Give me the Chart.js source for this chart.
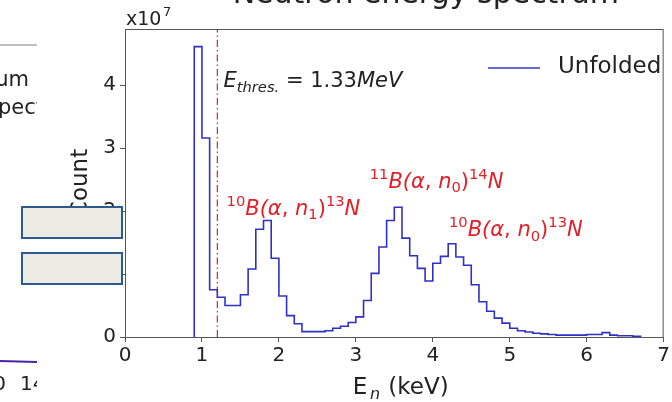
<!DOCTYPE html>
<html>
<head>
<meta charset="utf-8">
<script src="https://cdn.jsdelivr.net/npm/chart.js@4.4.1/dist/chart.umd.min.js"></script>
<style>
  html, body { margin: 0; padding: 0; background: #fff; }
  #wrap { width: 672px; height: 402px; position: relative; }
</style>
</head>
<body>
<div id="wrap"><canvas id="myChart" width="672" height="402"></canvas></div>
<script>
// histogram bins (keV), 0.1 keV wide, first bin starts at 0.9
const binStart = 0.9;
const binWidth = 0.1;
// counts per bin, in units of 1e7
const counts = [
  4.61, 3.16, 0.75, 0.63, 0.50, 0.50, 0.67, 1.08, 1.71, 1.85,
  1.25, 0.65, 0.34, 0.21, 0.085, 0.085, 0.085, 0.10, 0.14, 0.17,
  0.23, 0.32, 0.58, 1.01, 1.43, 1.85, 2.06, 1.57, 1.29, 1.09,
  0.89, 1.17, 1.28, 1.48, 1.27, 1.14, 0.83, 0.56, 0.41, 0.30,
  0.22, 0.14, 0.10, 0.08, 0.06, 0.05, 0.04, 0.03, 0.03, 0.03,
  0.03, 0.04, 0.04, 0.07, 0.03, 0.02, 0.02, 0.01
];
const threshold = 1.2;   // dash-dot line position (keV)
const xTicks = [0, 1, 2, 3, 4, 5, 6, 7];
const yMax = 4.89;

// reaction labels: [x keV, baseline y (1e7), parts]
const reactionLabels = [
  [1.32, 1.94, [["10", "sup"], ["B(", "i"], ["α", "i"], [", ", "r"], ["n", "i"], ["1", "sub"], [")", "r"], ["13", "sup"], ["N", "i"]]],
  [3.18, 2.37, [["11", "sup"], ["B(", "i"], ["α", "i"], [", ", "r"], ["n", "i"], ["0", "sub"], [")", "r"], ["14", "sup"], ["N", "i"]]],
  [4.21, 1.60, [["10", "sup"], ["B(", "i"], ["α", "i"], [", ", "r"], ["n", "i"], ["0", "sub"], [")", "r"], ["13", "sup"], ["N", "i"]]]
];
const thresLabel = [1.28, 3.97, [["E", "i"], ["thres.", "isub"], [" = 1.33", "r"], ["MeV", "i"]]];

// build step outline points (left edge of each bin carries its count)
const histPoints = [{ x: binStart, y: 0 }];
counts.forEach((c, i) => histPoints.push({ x: +(binStart + i * binWidth).toFixed(2), y: c }));
histPoints.push({ x: +(binStart + counts.length * binWidth).toFixed(2), y: 0 });

const FONT = "'DejaVu Sans'";

function drawRich(ctx, x, y, parts, size, color) {
  ctx.save();
  ctx.fillStyle = color;
  ctx.textAlign = "left";
  ctx.textBaseline = "alphabetic";
  let cx = x;
  parts.forEach(([t, st]) => {
    let fs = size, dy = 0, style = "";
    if (st === "i") style = "italic ";
    if (st === "sup") { fs = size * 0.7; dy = -size * 0.42; }
    if (st === "sub") { fs = size * 0.7; dy = size * 0.22; }
    if (st === "isub") { fs = size * 0.7; dy = size * 0.22; style = "italic "; }
    ctx.font = style + fs + "px " + FONT;
    ctx.fillText(t, cx, y + dy);
    cx += ctx.measureText(t).width;
  });
  ctx.restore();
}

const extras = {
  id: "extras",
  afterDraw(chart) {
    const { ctx, chartArea: a, scales: { x, y } } = chart;
    ctx.save();
    // frame
    ctx.strokeStyle = "#555";
    ctx.lineWidth = 1;
    ctx.strokeRect(a.left + 0.5, a.top + 0.5, a.right - a.left - 1, a.bottom - a.top);

    // top title (cut off by the crop)
    ctx.fillStyle = "#222";
    ctx.font = "30px " + FONT;
    ctx.textAlign = "left";
    ctx.textBaseline = "alphabetic";
    const pre = "Neutron energy ";
    ctx.fillText(pre + "spectrum", 477 - ctx.measureText(pre).width, 3);

    // x10^7
    ctx.font = "19px " + FONT;
    ctx.fillText("x10", 126, 25);
    ctx.font = "13px " + FONT;
    ctx.fillText("7", 163, 16);

    // axis titles
    ctx.font = "23px " + FONT;
    ctx.textAlign = "center";
    ctx.fillText("E", 360, 394);
    ctx.font = "italic 16px " + FONT;
    ctx.fillText("n", 375, 399);
    ctx.font = "23px " + FONT;
    ctx.textAlign = "left";
    ctx.fillText(" (keV)", 381, 394);
    ctx.save();
    ctx.translate(87, 183);
    ctx.rotate(-Math.PI / 2);
    ctx.textAlign = "center";
    ctx.fillText("Count", 0, 0);
    ctx.restore();

    // annotations
    reactionLabels.forEach(([vx, vy, parts]) =>
      drawRich(ctx, x.getPixelForValue(vx), y.getPixelForValue(vy), parts, 21, "#e3202a"));
    drawRich(ctx, x.getPixelForValue(thresLabel[0]), y.getPixelForValue(thresLabel[1]), thresLabel[2], 21, "#222");

    // legend
    ctx.strokeStyle = "#3434c8";
    ctx.lineWidth = 1.6;
    ctx.beginPath();
    ctx.moveTo(488, 68);
    ctx.lineTo(540, 68);
    ctx.stroke();
    ctx.fillStyle = "#222";
    ctx.font = "23px " + FONT;
    ctx.textAlign = "left";
    ctx.textBaseline = "middle";
    ctx.fillText("Unfolded", 558, 67);

    // fragment of neighbouring panel
    ctx.save();
    ctx.beginPath();
    ctx.rect(0, 0, 37, 402);
    ctx.clip();
    ctx.strokeStyle = "#aaa";
    ctx.lineWidth = 1.5;
    ctx.beginPath();
    ctx.moveTo(0, 45); ctx.lineTo(37, 45);
    ctx.stroke();
    ctx.fillStyle = "#222";
    ctx.font = "21px " + FONT;
    ctx.textBaseline = "alphabetic";
    ctx.textAlign = "right";
    ctx.fillText("spectrum", 29, 86);
    ctx.textAlign = "left";
    ctx.fillText("spectrum", -13, 114);
    ctx.strokeStyle = "#4a22a8";
    ctx.lineWidth = 2.2;
    ctx.beginPath();
    ctx.moveTo(0, 361); ctx.lineTo(37, 362);
    ctx.stroke();
    ctx.font = "20px " + FONT;
    ctx.textAlign = "right";
    ctx.fillText("120", 6, 390);
    ctx.textAlign = "left";
    ctx.fillText("140", 20, 390);
    ctx.restore();

    // overlay boxes
    ctx.fillStyle = "#ecebe4";
    ctx.strokeStyle = "#2e5a8e";
    ctx.lineWidth = 2;
    [[22, 207], [22, 253]].forEach(([bx, by]) => {
      ctx.fillRect(bx, by, 100, 31);
      ctx.strokeRect(bx, by, 100, 31);
    });
    ctx.restore();
  }
};

const data = {
  datasets: [
    {
      label: "Unfolded",
      data: histPoints,
      stepped: "before",
      borderColor: "#3030c8",
      borderWidth: 1.6,
      pointRadius: 0,
      fill: false
    },
    {
      label: "threshold",
      data: [{ x: threshold, y: 0 }, { x: threshold, y: yMax }],
      borderColor: "#e0202a",
      borderWidth: 1.2,
      borderDash: [7, 3, 1.5, 3],
      pointRadius: 0,
      fill: false
    }
  ]
};

const config = {
  type: "line",
  data: data,
  options: {
    responsive: false,
    animation: false,
    layout: { padding: { left: 0, right: 1, top: 29, bottom: 0 } },
    plugins: { legend: { display: false }, tooltip: { enabled: false } },
    scales: {
      x: {
        type: "linear",
        min: 0,
        max: 7,
        afterFit: (s) => { s.height = 65; },
        afterBuildTicks: (s) => { s.ticks = xTicks.map((v) => ({ value: v })); },
        ticks: { font: { family: "DejaVu Sans", size: 20 }, color: "#222", padding: 2, maxRotation: 0 },
        grid: { drawOnChartArea: false, color: "#555", tickLength: 5 },
        border: { color: "#555" }
      },
      y: {
        min: 0,
        max: yMax,
        afterFit: (s) => { s.width = 125; },
        ticks: { stepSize: 1, includeBounds: false, font: { family: "DejaVu Sans", size: 20 }, color: "#222", padding: 4 },
        grid: { drawOnChartArea: false, color: "#555", tickLength: 5 },
        border: { color: "#555" }
      }
    }
  },
  plugins: [extras]
};

const myChart = new Chart(document.getElementById("myChart"), config);
</script>
</body>
</html>
